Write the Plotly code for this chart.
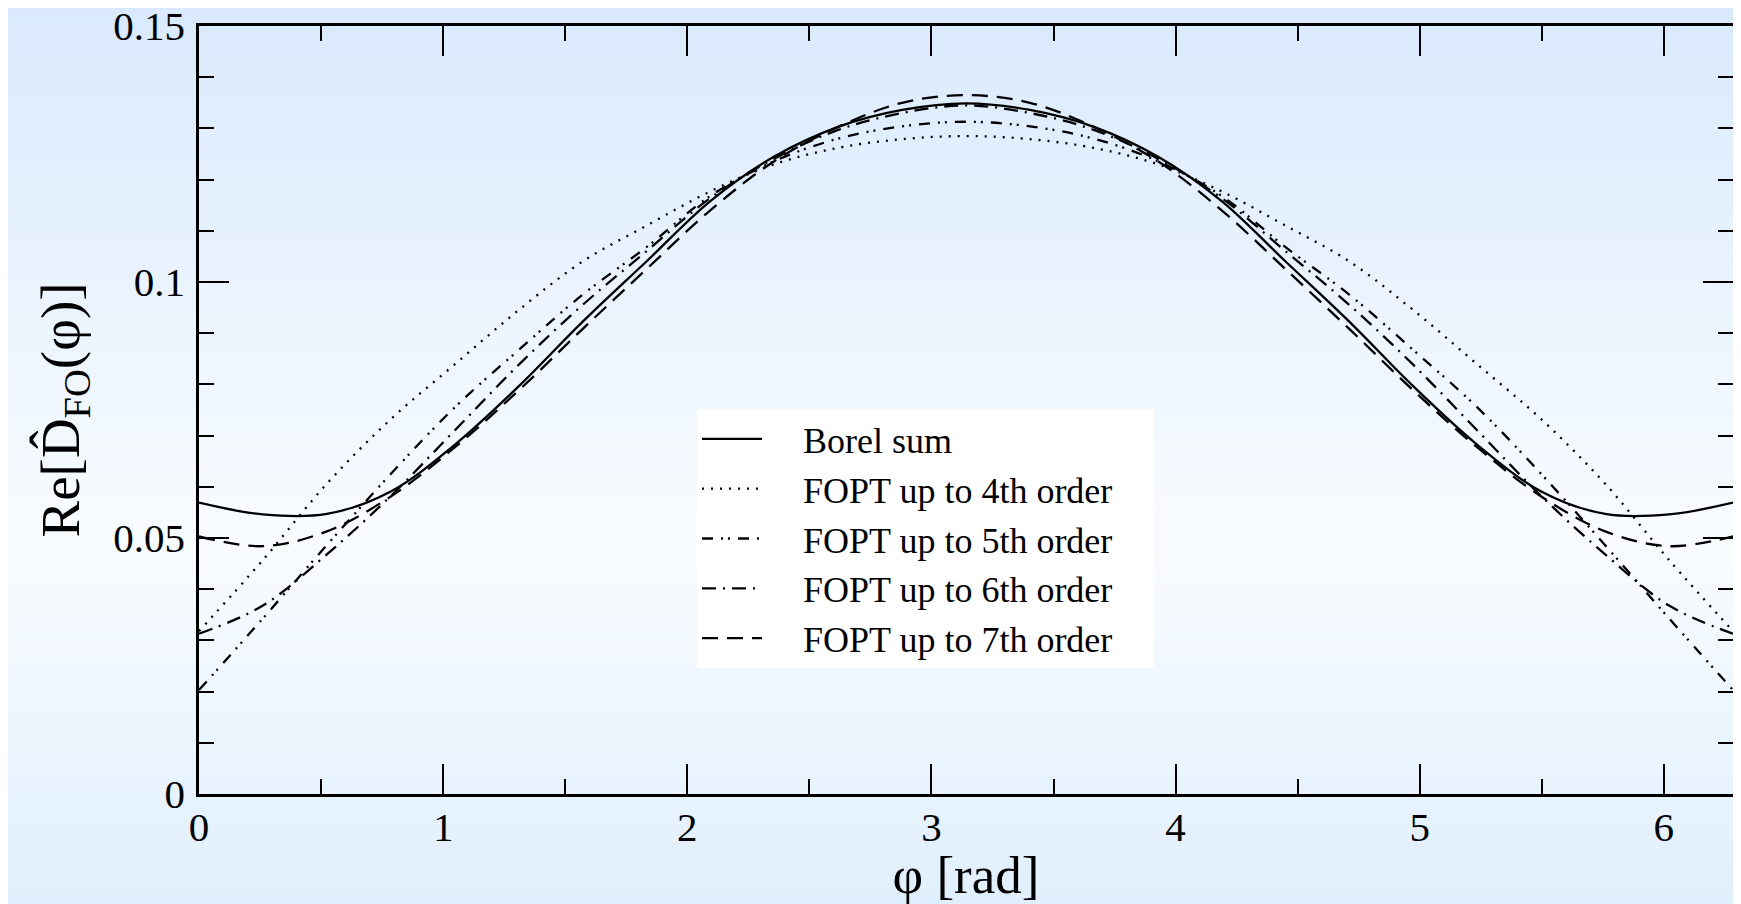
import plotly.graph_objects as go

# phi grid (k * pi/12), radians
phi = [0.0, 0.2618, 0.5236, 0.7854, 1.0472, 1.3090, 1.5708, 1.8326, 2.0944, 2.3562,
       2.6180, 2.8798, 3.1416, 3.4034, 3.6652, 3.9270, 4.1888, 4.4506, 4.7124, 4.9742,
       5.2360, 5.4978, 5.7596, 6.0214, 6.2832]

borel = [0.0569, 0.0546, 0.0547, 0.0591, 0.0682, 0.0796, 0.0922, 0.1040, 0.1158, 0.1245,
         0.1303, 0.1336, 0.1349, 0.1336, 0.1303, 0.1245, 0.1158, 0.1040, 0.0922, 0.0796,
         0.0682, 0.0591, 0.0547, 0.0546, 0.0569]

fopt4 = [0.0318, 0.0457, 0.0606, 0.0732, 0.0839, 0.0945, 0.1040, 0.1110, 0.1177, 0.1230,
         0.1262, 0.1279, 0.1285, 0.1279, 0.1262, 0.1230, 0.1177, 0.1110, 0.1040, 0.0945,
         0.0839, 0.0732, 0.0606, 0.0457, 0.0318]

fopt5 = [0.0203, 0.0343, 0.0486, 0.0625, 0.0755, 0.0867, 0.0975, 0.1068, 0.1168, 0.1236,
         0.1280, 0.1304, 0.1313, 0.1304, 0.1280, 0.1236, 0.1168, 0.1068, 0.0975, 0.0867,
         0.0755, 0.0625, 0.0486, 0.0343, 0.0203]

fopt6 = [0.0313, 0.0368, 0.0468, 0.0582, 0.0710, 0.0838, 0.0955, 0.1060, 0.1164, 0.1241,
         0.1297, 0.1330, 0.1345, 0.1330, 0.1297, 0.1241, 0.1164, 0.1060, 0.0955, 0.0838,
         0.0710, 0.0582, 0.0468, 0.0368, 0.0313]

fopt7 = [0.0503, 0.0484, 0.0513, 0.0581, 0.0677, 0.0788, 0.0908, 0.1025, 0.1140, 0.1236,
         0.1303, 0.1350, 0.1365, 0.1350, 0.1303, 0.1236, 0.1140, 0.1025, 0.0908, 0.0788,
         0.0677, 0.0581, 0.0513, 0.0484, 0.0503]

names = ["Borel sum", "FOPT up to 4th order", "FOPT up to 5th order",
         "FOPT up to 6th order", "FOPT up to 7th order"]
series = [borel, fopt4, fopt5, fopt6, fopt7]
dashes = ["solid", "2px,7px", "11px,8px,2px,5px,2px,8px", "14px,7px,2px,7px", "16px,9px"]

FONT = "Liberation Serif, Times New Roman, serif"
GAP = "\u00a0\u00a0\u00a0\u00a0"
TAIL = "\u00a0\u00a0\u00a0\u00a0"

fig = go.Figure()
for nm, ys, ds in zip(names, series, dashes):
    fig.add_trace(go.Scatter(x=phi, y=ys, mode="lines", name=GAP + nm + TAIL,
                             line=dict(color="black", width=2.3, dash=ds, shape="spline")))

# page is offset by the default 8px body margin
OFF = 8
W, H = 1741 - OFF, 904 - OFF
L, R, T, B = 199 - OFF, 8, 26 - OFF, 110
pw, ph = W - L - R, H - T - B

# background gradient (light blue -> near white -> light blue), in page pixels
shapes = []
top_c = (217, 233, 253)
mid_c = (249, 252, 255)
bot_c = (224, 239, 253)
tm = 0.6
step = 4
for yp in range(0, H, step):
    t = (yp + OFF + step / 2) / 904
    if t < tm:
        w = (tm - t) / tm
        c = tuple(round(m + (a - m) * w) for a, m in zip(top_c, mid_c))
    else:
        w = (t - tm) / (1 - tm)
        c = tuple(round(m + (a - m) * w) for a, m in zip(bot_c, mid_c))
    y0 = (T + ph - (yp + step)) / ph
    y1 = (T + ph - yp) / ph
    shapes.append(dict(type="rect", xref="paper", yref="paper", x0=-L / pw - 0.01, x1=1 + (R + 5) / pw,
                       y0=y0 - 0.0005, y1=y1 + 0.0005, fillcolor="rgb(%d,%d,%d)" % c,
                       line=dict(width=0), layer="below"))

axis_common = dict(showgrid=False, zeroline=False, ticks="inside", ticklen=30, tickwidth=2,
                   tickcolor="black", showline=True, linecolor="black", linewidth=2.5,
                   mirror="allticks", automargin=False, ticklabeloverflow="allow",
                   tickfont=dict(family=FONT, size=41, color="black"))

fig.update_layout(
    width=W, height=H, autosize=False,
    margin=dict(l=L, r=R, t=T, b=B),
    paper_bgcolor="rgb(236,244,254)", plot_bgcolor="rgba(0,0,0,0)",
    shapes=shapes,
    showlegend=True,
    legend=dict(x=(697 - OFF - L) / pw, y=(T + ph - (409 - OFF)) / ph, xanchor="left", yanchor="top",
                bgcolor="white", borderwidth=0, font=dict(family=FONT, size=36, color="black"),
                itemwidth=60, tracegroupgap=0),
    xaxis=dict(range=[0, 6.2832], tick0=0, dtick=1, ticklabelstandoff=-5,
               minor=dict(dtick=0.5, ticks="inside", ticklen=15, tickwidth=2, tickcolor="black", showgrid=False),
               title=dict(text="φ [rad]", font=dict(family=FONT, size=53, color="black"), standoff=2),
               **axis_common),
    yaxis=dict(range=[0, 0.15], tick0=0, dtick=0.05, ticklabelstandoff=3,
               minor=dict(dtick=0.01, ticks="inside", ticklen=15, tickwidth=2, tickcolor="black", showgrid=False),
               title=dict(text="Re[D\u0302<sub>FO</sub>(φ)]", font=dict(family=FONT, size=55, color="black"), standoff=17),
               **axis_common),
)

fig.write_html("out.html")
